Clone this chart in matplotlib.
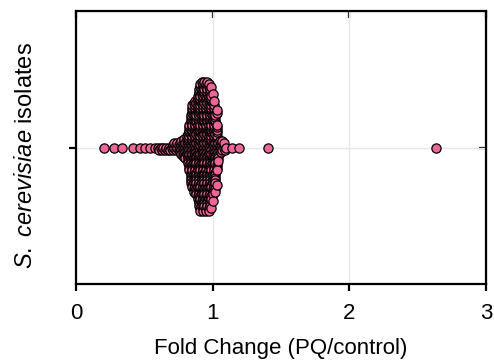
import matplotlib
matplotlib.use("Agg")
import matplotlib.pyplot as plt
import numpy as np

plt.rcParams['font.family'] = ['Liberation Sans', 'DejaVu Sans']
plt.rcParams['mathtext.fontset'] = 'custom'
plt.rcParams['mathtext.it'] = 'Liberation Sans:italic'
plt.rcParams['mathtext.rm'] = 'Liberation Sans'

# fold change values (binned at 0.01) and how many isolates fall on each
fc_bins = [0.61, 0.62, 0.63, 0.64, 0.65, 0.66, 0.67, 0.68, 0.69, 0.70,
           0.71, 0.72, 0.73, 0.74, 0.75, 0.76, 0.77, 0.78, 0.79, 0.80,
           0.81, 0.82, 0.83, 0.84, 0.85, 0.86, 0.87, 0.88, 0.89, 0.90,
           0.91, 0.92, 0.93, 0.94, 0.95, 0.96, 0.97, 0.98, 0.99, 1.00,
           1.01, 1.02, 1.03, 1.04, 1.05, 1.06, 1.07, 1.08, 1.09, 1.10]
isolate_counts = [1, 1, 1, 1, 1, 1, 1, 1, 1, 1,
                  2, 2, 2, 2, 2, 3, 4, 4, 5, 5,
                  6, 8, 13, 17, 19, 20, 20, 21, 24, 27,
                  28, 28, 28, 28, 28, 28, 28, 27, 26, 23,
                  20, 19, 16, 6, 3, 3, 3, 2, 1, 1]
# single outlying isolates
fc_outliers = [0.205, 0.278, 0.334, 0.419, 0.468, 0.505, 0.541, 0.578, 0.600,
               1.139, 1.195, 1.407, 2.634]

fold_change = np.sort(np.concatenate([np.repeat(fc_bins, isolate_counts), fc_outliers]))

xticks = [0, 1, 2, 3]
point_color = '#EF6598'

W, H = 494, 362
fig = plt.figure(figsize=(W / 100, H / 100), dpi=100)
ax_l, ax_r, ax_t, ax_b = 76, 486, 11, 284
ax = fig.add_axes([ax_l / W, (H - ax_b) / H, (ax_r - ax_l) / W, (ax_b - ax_t) / H])
ax.set_xlim(0, 3)
ax.set_ylim(-1, 1)


def swarm_offsets(x_px, d):
    """simple beeswarm, returns vertical offsets in pixels"""
    px, py = [], []
    out = np.zeros(len(x_px))
    for k, i in enumerate(np.argsort(x_px, kind='stable')):
        x = x_px[i]
        ax_ = np.array(px)
        ay_ = np.array(py)
        near = np.abs(ax_ - x) < d if len(ax_) else np.zeros(0, bool)
        cands = [0.0]
        if near.any():
            dy = np.sqrt(d ** 2 - (ax_[near] - x) ** 2)
            cands += list(ay_[near] + dy) + list(ay_[near] - dy)
        sgn = 1 if k % 2 else -1
        cands.sort(key=lambda c: (round(abs(c), 6), sgn * c))
        for c in cands:
            if not near.any() or np.all((ax_[near] - x) ** 2 + (ay_[near] - c) ** 2 >= d ** 2 - 1e-6):
                out[i] = c
                break
        px.append(x)
        py.append(out[i])
    return out


px_per_x = (ax_r - ax_l) / 3.0
px_per_y = (ax_b - ax_t) / 2.0
offs = swarm_offsets(fold_change * px_per_x, 2.5)
y = offs / px_per_y

ax.grid(True, color='#e8e8e8', linewidth=1.0)
ax.set_axisbelow(True)
ax.scatter(fold_change, y, s=44, color=point_color, edgecolor='black',
           linewidth=0.9, zorder=3)

ax.set_xticks(xticks)
ax.set_yticks([0])
ax.set_yticklabels([''])
for s in ax.spines.values():
    s.set_linewidth(1.6)
ax.tick_params(direction='out', length=5, width=1.6, labelsize=16, pad=9)

top = ax.secondary_xaxis('top')
top.set_xticks(xticks)
top.tick_params(direction='in', length=5, width=1.6, labeltop=False)
right = ax.secondary_yaxis('right')
right.set_yticks([0])
right.tick_params(direction='in', length=5, width=1.6, labelright=False)

ax.set_xlabel('Fold Change (PQ/control)', fontsize=16, labelpad=10)
ax.set_ylabel(r'$\it{S.\ cerevisiae}$ isolates', fontsize=17)
ax.yaxis.set_label_coords(-0.095, 0.47)

fig.savefig('out.png', dpi=100)
